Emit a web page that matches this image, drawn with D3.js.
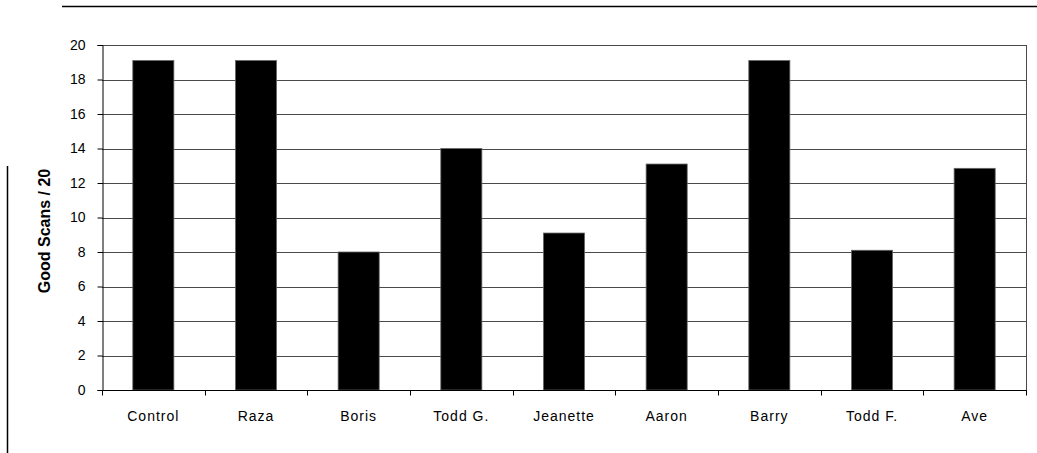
<!DOCTYPE html>
<html><head><meta charset="utf-8">
<script src="https://cdn.jsdelivr.net/npm/d3@7"></script>
<style>body{margin:0;background:#fff}svg{display:block}</style>
</head><body>
<script>
const categories = ["Control","Raza","Boris","Todd G.","Jeanette","Aaron","Barry","Todd F.","Ave"];
const values = [19.1, 19.1, 8.0, 14.0, 9.1, 13.1, 19.1, 8.1, 12.85];
const yTicks = [0,2,4,6,8,10,12,14,16,18,20];
const yLabel = "Good Scans / 20";

const W = 1037, H = 453;
const pLeft = 102, pRight = 1026, pTop = 45, pBottom = 390;
const svg = d3.select("body").append("svg").attr("width", W).attr("height", H);

const x = d3.scaleBand().domain(categories).range([pLeft, pRight]).paddingInner(0.6).paddingOuter(0.3);
const xb = d3.scaleBand().domain(categories).range([pLeft, pRight]);
const y = d3.scaleLinear().domain([0, 20]).range([pBottom, pTop]);

// decorative lines
svg.append("line").attr("x1", 62).attr("x2", 1037).attr("y1", 6.5).attr("y2", 6.5).attr("stroke", "#000").attr("stroke-width", 1.5);
svg.append("line").attr("x1", 7.5).attr("x2", 7.5).attr("y1", 166).attr("y2", 453).attr("stroke", "#000").attr("stroke-width", 1.5);

// gridlines
svg.append("g").selectAll("line").data(yTicks.filter(d => d > 0)).join("line")
  .attr("x1", pLeft).attr("x2", pRight)
  .attr("y1", d => Math.round(y(d)) + 0.5).attr("y2", d => Math.round(y(d)) + 0.5)
  .attr("stroke", "#4a4a4a").attr("stroke-width", 1);
// right border
svg.append("line").attr("x1", pRight + 0.5).attr("x2", pRight + 0.5).attr("y1", pTop).attr("y2", pBottom)
  .attr("stroke", "#4a4a4a");

// bars
svg.append("g").selectAll("rect").data(values).join("rect")
  .attr("x", (d, i) => x(categories[i]))
  .attr("width", x.bandwidth())
  .attr("y", d => y(d))
  .attr("height", d => y(0) - y(d))
  .attr("fill", "#000").attr("stroke", "#666").attr("stroke-width", 0.8);

// y axis
const yAxis = d3.axisLeft(y).tickValues(yTicks).tickSize(5).tickPadding(12);
const gy = svg.append("g").attr("transform", `translate(${pLeft + 0.5},0)`).call(yAxis);
gy.select(".domain").attr("stroke", "#000");
gy.selectAll(".tick line").attr("stroke", "#000");
gy.selectAll("text").attr("font-family", "Liberation Sans, Arial, sans-serif").attr("font-size", 14).attr("fill", "#000");

// x axis with ticks at category boundaries
const gx = svg.append("g").attr("transform", `translate(0,${pBottom + 0.5})`);
gx.append("line").attr("x1", pLeft).attr("x2", pRight + 1).attr("stroke", "#000");
const bounds = categories.map(c => xb(c)).concat([pRight]);
gx.selectAll("line.tk").data(bounds).join("line").attr("class", "tk")
  .attr("x1", d => Math.round(d) + 0.5).attr("x2", d => Math.round(d) + 0.5)
  .attr("y1", 0).attr("y2", 5).attr("stroke", "#000");
gx.selectAll("text").data(categories).join("text")
  .attr("x", c => xb(c) + xb.bandwidth() / 2)
  .attr("y", 30)
  .attr("text-anchor", "middle")
  .attr("font-family", "Liberation Sans, Arial, sans-serif")
  .attr("font-size", 14).attr("letter-spacing", "1px")
  .text(c => c);

// y label
svg.append("text")
  .attr("transform", "translate(50,231) rotate(-90)")
  .attr("text-anchor", "middle")
  .attr("font-family", "Liberation Sans, Arial, sans-serif")
  .attr("font-weight", "bold").attr("font-size", 16)
  .text(yLabel);
</script>
</body></html>
